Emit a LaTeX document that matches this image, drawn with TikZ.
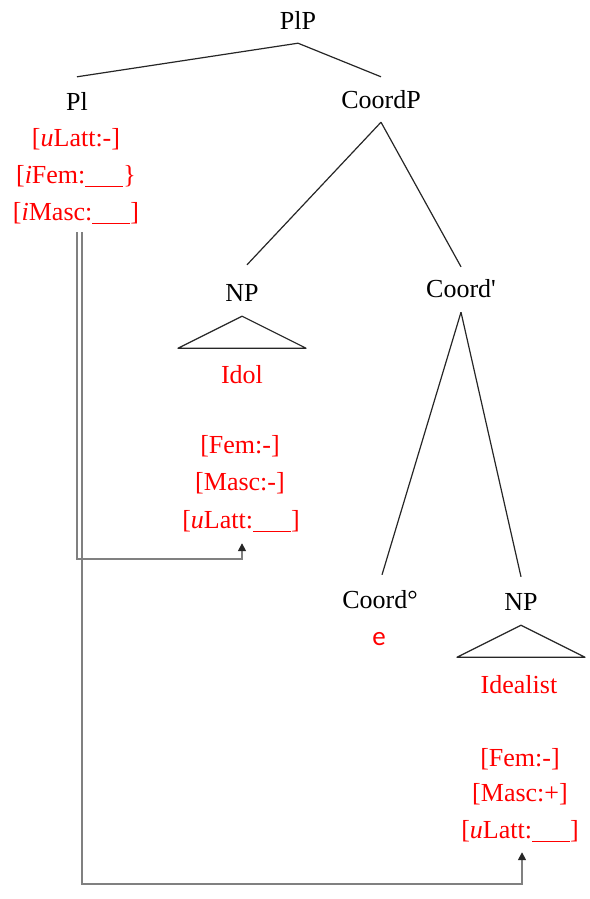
\documentclass[tikz,border=0pt]{standalone}
\usepackage{fontspec}
\setmainfont{Liberation Serif}
\newfontfamily\esans{Carlito}
\usetikzlibrary{arrows.meta}
\newcommand{\blankline}{\rule[-4pt]{38pt}{1.2pt}}
\begin{document}
\begin{tikzpicture}[x=1pt,y=-1pt,
  lab/.style={font=\fontsize{26}{30}\selectfont, inner sep=0pt, text height=18pt, text depth=6pt, anchor=base},
  cat/.style={lab, text=black},
  feat/.style={lab, text=red},
  branch/.style={draw=black!85, line width=1.2pt},
  conn/.style={draw=black!50, line width=1.6pt},
  tip/.style={-{Triangle[length=8pt,width=8pt,color=black!85]}}
]
\useasboundingbox (0,0) rectangle (589,899);
% categories
\node[cat] (plp) at (298,30) {PlP};
\node[cat] (pl) at (77,110) {Pl};
\node[cat] (cp) at (381,108) {CoordP};
\node[cat] (npl) at (242,301) {NP};
\node[cat] (cbar) at (461,297) {Coord\textquotesingle};
\node[cat] (chead) at (380,608) {Coord°};
\node[cat] (npr) at (521,610) {NP};
% features
\node[feat] (pf1) at (76,146) {[\textit{u}Latt:-]};
\node[feat] (pf2) at (76,183) {[\textit{i}Fem:\blankline\}};
\node[feat] (pf3) at (76,220) {[\textit{i}Masc:\blankline]};
\node[feat] (idol) at (242,383) {Idol};
\node[feat] (lf1) at (240,453) {[Fem:-]};
\node[feat] (lf2) at (240,490) {[Masc:-]};
\node[feat] (lf3) at (241,528) {[\textit{u}Latt:\blankline]};
\node[feat, font=\esans\fontsize{27}{30}\selectfont] (e) at (379,645) {e};
\node[feat] (ideal) at (519,693) {Idealist};
\node[feat] (rf1) at (520,766) {[Fem:-]};
\node[feat] (rf2) at (520,801) {[Masc:+]};
\node[feat] (rf3) at (520,838) {[\textit{u}Latt:\blankline]};
% branches
\draw[branch] ([yshift=-7pt]plp.south) -- ([yshift=15pt]pl.north);
\draw[branch] ([yshift=-7pt]plp.south) -- ([yshift=13pt]cp.north);
\draw[branch] ([yshift=-8pt]cp.south) -- ([xshift=5pt,yshift=18pt]npl.north);
\draw[branch] ([yshift=-8pt]cp.south) -- ([yshift=12pt]cbar.north);
\draw[branch] ([yshift=-9pt]cbar.south) -- ([xshift=2pt,yshift=15pt]chead.north);
\draw[branch] ([yshift=-9pt]cbar.south) -- ([yshift=15pt]npr.north);
% triangles
\draw[branch, line join=round] ([yshift=-9pt]npl.south) -- ++(-64,32) -- ++(128,0) -- cycle;
\draw[branch, line join=round] ([yshift=-9pt]npr.south) -- ++(-64,32) -- ++(128,0) -- cycle;
% agreement connectors
\draw[conn,tip] ([xshift=1pt,yshift=-6pt]pf3.south) -- ++(0,327) -| ([xshift=1pt,yshift=-9pt]lf3.south);
\draw[conn,tip] ([xshift=6pt,yshift=-6pt]pf3.south) -- ++(0,652) -| ([xshift=2pt,yshift=-8pt]rf3.south);
\end{tikzpicture}
\end{document}
